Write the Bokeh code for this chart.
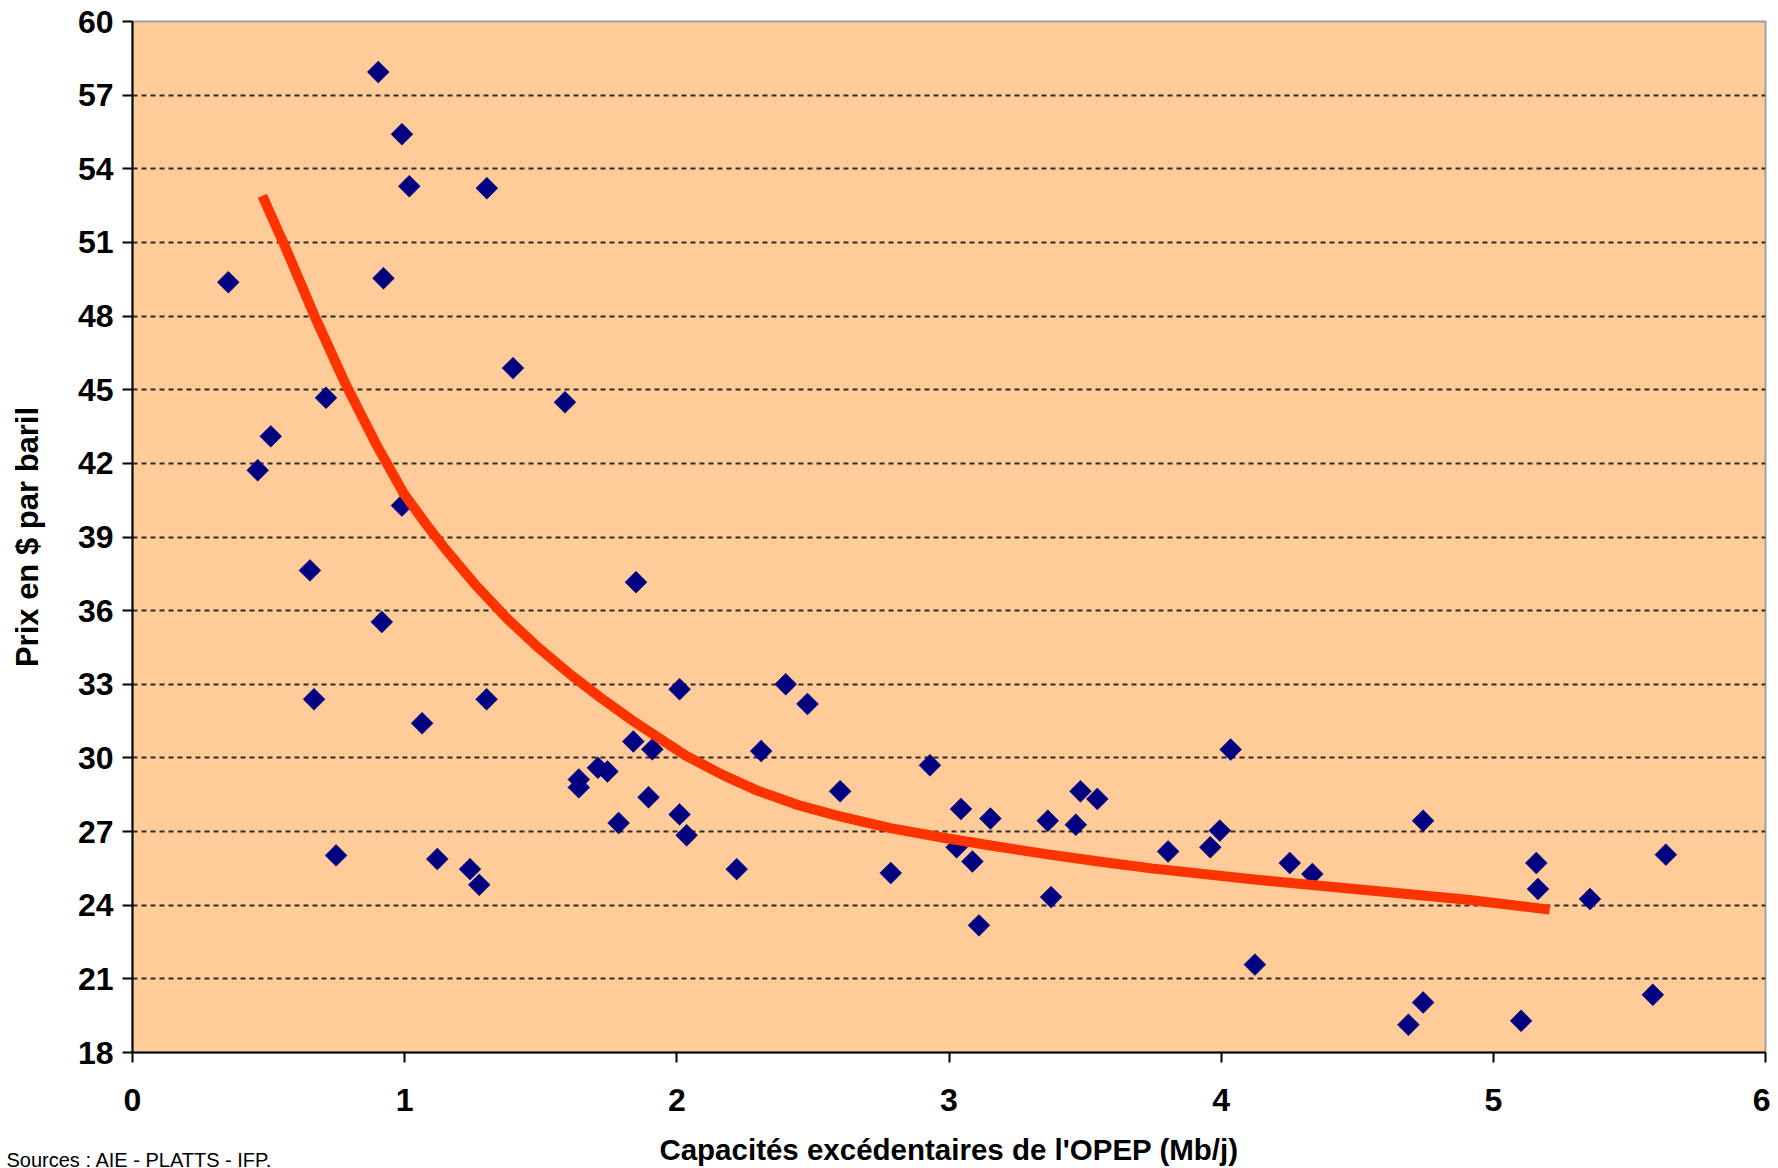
import math
from bokeh.plotting import figure
from bokeh.models import FixedTicker, Label, Range1d, ColumnDataSource
from bokeh.embed import file_html
from bokeh.resources import INLINE

# ---- data ----
spare_capacity = [0.352, 0.46, 0.508, 0.711, 0.652, 0.667, 0.748, 0.903, 0.922, 0.916,
                  0.99, 0.99, 1.017, 1.064, 1.12, 1.24, 1.274, 1.302, 1.301, 1.398,
                  1.589, 1.64, 1.64, 1.71, 1.745, 1.786, 1.84, 1.85, 1.896, 1.91,
                  2.01, 2.01, 2.036, 2.22, 2.31, 2.40, 2.48, 2.60, 2.786, 2.93,
                  3.028, 3.044, 3.086, 3.11, 3.152, 3.363, 3.375, 3.466, 3.483, 3.545,
                  3.805, 3.96, 3.995, 4.035, 4.124, 4.252, 4.335, 4.688, 4.742, 4.742,
                  5.102, 5.158, 5.164, 5.355, 5.586, 5.634]
price = [49.38, 41.72, 43.10, 44.67, 37.64, 32.39, 26.03, 57.94, 49.54, 35.54,
         55.41, 40.28, 53.29, 31.41, 25.88, 25.47, 24.83, 53.21, 32.39, 45.88,
         44.49, 29.12, 28.80, 29.6, 29.45, 27.35, 30.67, 37.16, 28.40, 30.35,
         32.8, 27.7, 26.85, 25.47, 30.28, 33.0, 32.2, 28.64, 25.31, 29.7,
         26.36, 27.92, 25.78, 23.18, 27.53, 27.44, 24.33, 27.28, 28.64, 28.33,
         26.19, 26.36, 27.04, 30.34, 21.58, 25.72, 25.27, 19.13, 27.44, 20.04,
         19.29, 25.72, 24.66, 24.25, 20.35, 26.06]

trend_x = [0.477, 0.554, 0.669, 0.784, 0.899, 0.995, 1.08, 1.15, 1.26, 1.379, 1.49, 1.609,
           1.72, 1.84, 2.032, 2.17, 2.30, 2.44, 2.588, 2.78, 2.98, 3.17, 3.357, 3.55,
           3.744, 4.131, 4.519, 4.906, 5.207]
trend_y = [52.9, 51.0, 48.0, 45.2, 42.7, 40.8, 39.5, 38.5, 37.05, 35.65, 34.5, 33.4,
           32.45, 31.5, 30.1, 29.3, 28.65, 28.1, 27.65, 27.15, 26.75, 26.4, 26.08, 25.78,
           25.5, 25.04, 24.63, 24.22, 23.82]

x_ticks = [0, 1, 2, 3, 4, 5, 6]
x_tick_labels = ["0", "1", "2", "3", "4", "5", "6"]
y_ticks = [18, 21, 24, 27, 30, 33, 36, 39, 42, 45, 48, 51, 54, 57, 60]
y_tick_labels = ["18", "21", "24", "27", "30", "33", "36", "39", "42", "45", "48", "51", "54", "57", "60"]
grid_ticks = [21, 24, 27, 30, 33, 36, 39, 42, 45, 48, 51, 54, 57]

x_title = "Capacités excédentaires de l'OPEP (Mb/j)"
y_title = "Prix en $ par baril"
source_text = "Sources : AIE - PLATTS - IFP."

FONT = "Liberation Sans"

p = figure(frame_width=1633, frame_height=1031,
           x_range=Range1d(0, 6), y_range=Range1d(18, 60),
           output_backend="svg", toolbar_location=None,
           min_border_left=132, min_border_right=5,
           min_border_top=21, min_border_bottom=0)

p.background_fill_color = "#FFCC99"
p.border_fill_color = "white"
p.outline_line_color = "#A0A0A0"
p.outline_line_width = 2

p.xgrid.visible = False
p.ygrid.ticker = FixedTicker(ticks=grid_ticks)
p.ygrid.grid_line_color = "#2a2a2a"
p.ygrid.grid_line_dash = "5 4"
p.ygrid.grid_line_width = 2

for ax, ticks, labels in ((p.xaxis, x_ticks, x_tick_labels), (p.yaxis, y_ticks, y_tick_labels)):
    ax.ticker = FixedTicker(ticks=ticks)
    ax.major_label_overrides = {t: l for t, l in zip(ticks, labels)}
    ax.minor_tick_line_color = None
    ax.major_tick_in = 0
    ax.major_tick_out = 10
    ax.major_tick_line_color = "black"
    ax.major_tick_line_width = 2
    ax.axis_line_color = "black"
    ax.axis_line_width = 2
    ax.major_label_text_font = FONT
    ax.major_label_text_font_style = "bold"
    ax.major_label_text_font_size = "32px"
    ax.major_label_text_color = "black"
    ax.axis_label_text_font = FONT
    ax.axis_label_text_font_style = "bold"
    ax.axis_label_text_color = "black"

p.xaxis.axis_label = x_title
p.xaxis.axis_label_text_font_size = "29.5px"
p.xaxis.major_label_standoff = 26
p.xaxis.axis_label_standoff = 19

p.yaxis.axis_label = y_title
p.yaxis.axis_label_text_font_size = "31px"
p.yaxis.major_label_standoff = 9
p.yaxis.axis_label_standoff = 30

src = ColumnDataSource(dict(x=spare_capacity, y=price))
p.scatter("x", "y", source=src, marker="square", angle=math.pi / 4, size=15.5,
          fill_color="#000080", line_color="#000080", line_width=0.5)

p.line(trend_x, trend_y, line_color="#FF3300", line_width=10, line_cap="butt", line_join="round")

p.add_layout(Label(x=-126, y=31, x_units="screen", y_units="screen", text=source_text,
                   text_font=FONT, text_font_size="20px", text_color="black",
                   text_align="left", text_baseline="alphabetic"), "below")

open("out.html", "w").write(file_html(p, INLINE))
